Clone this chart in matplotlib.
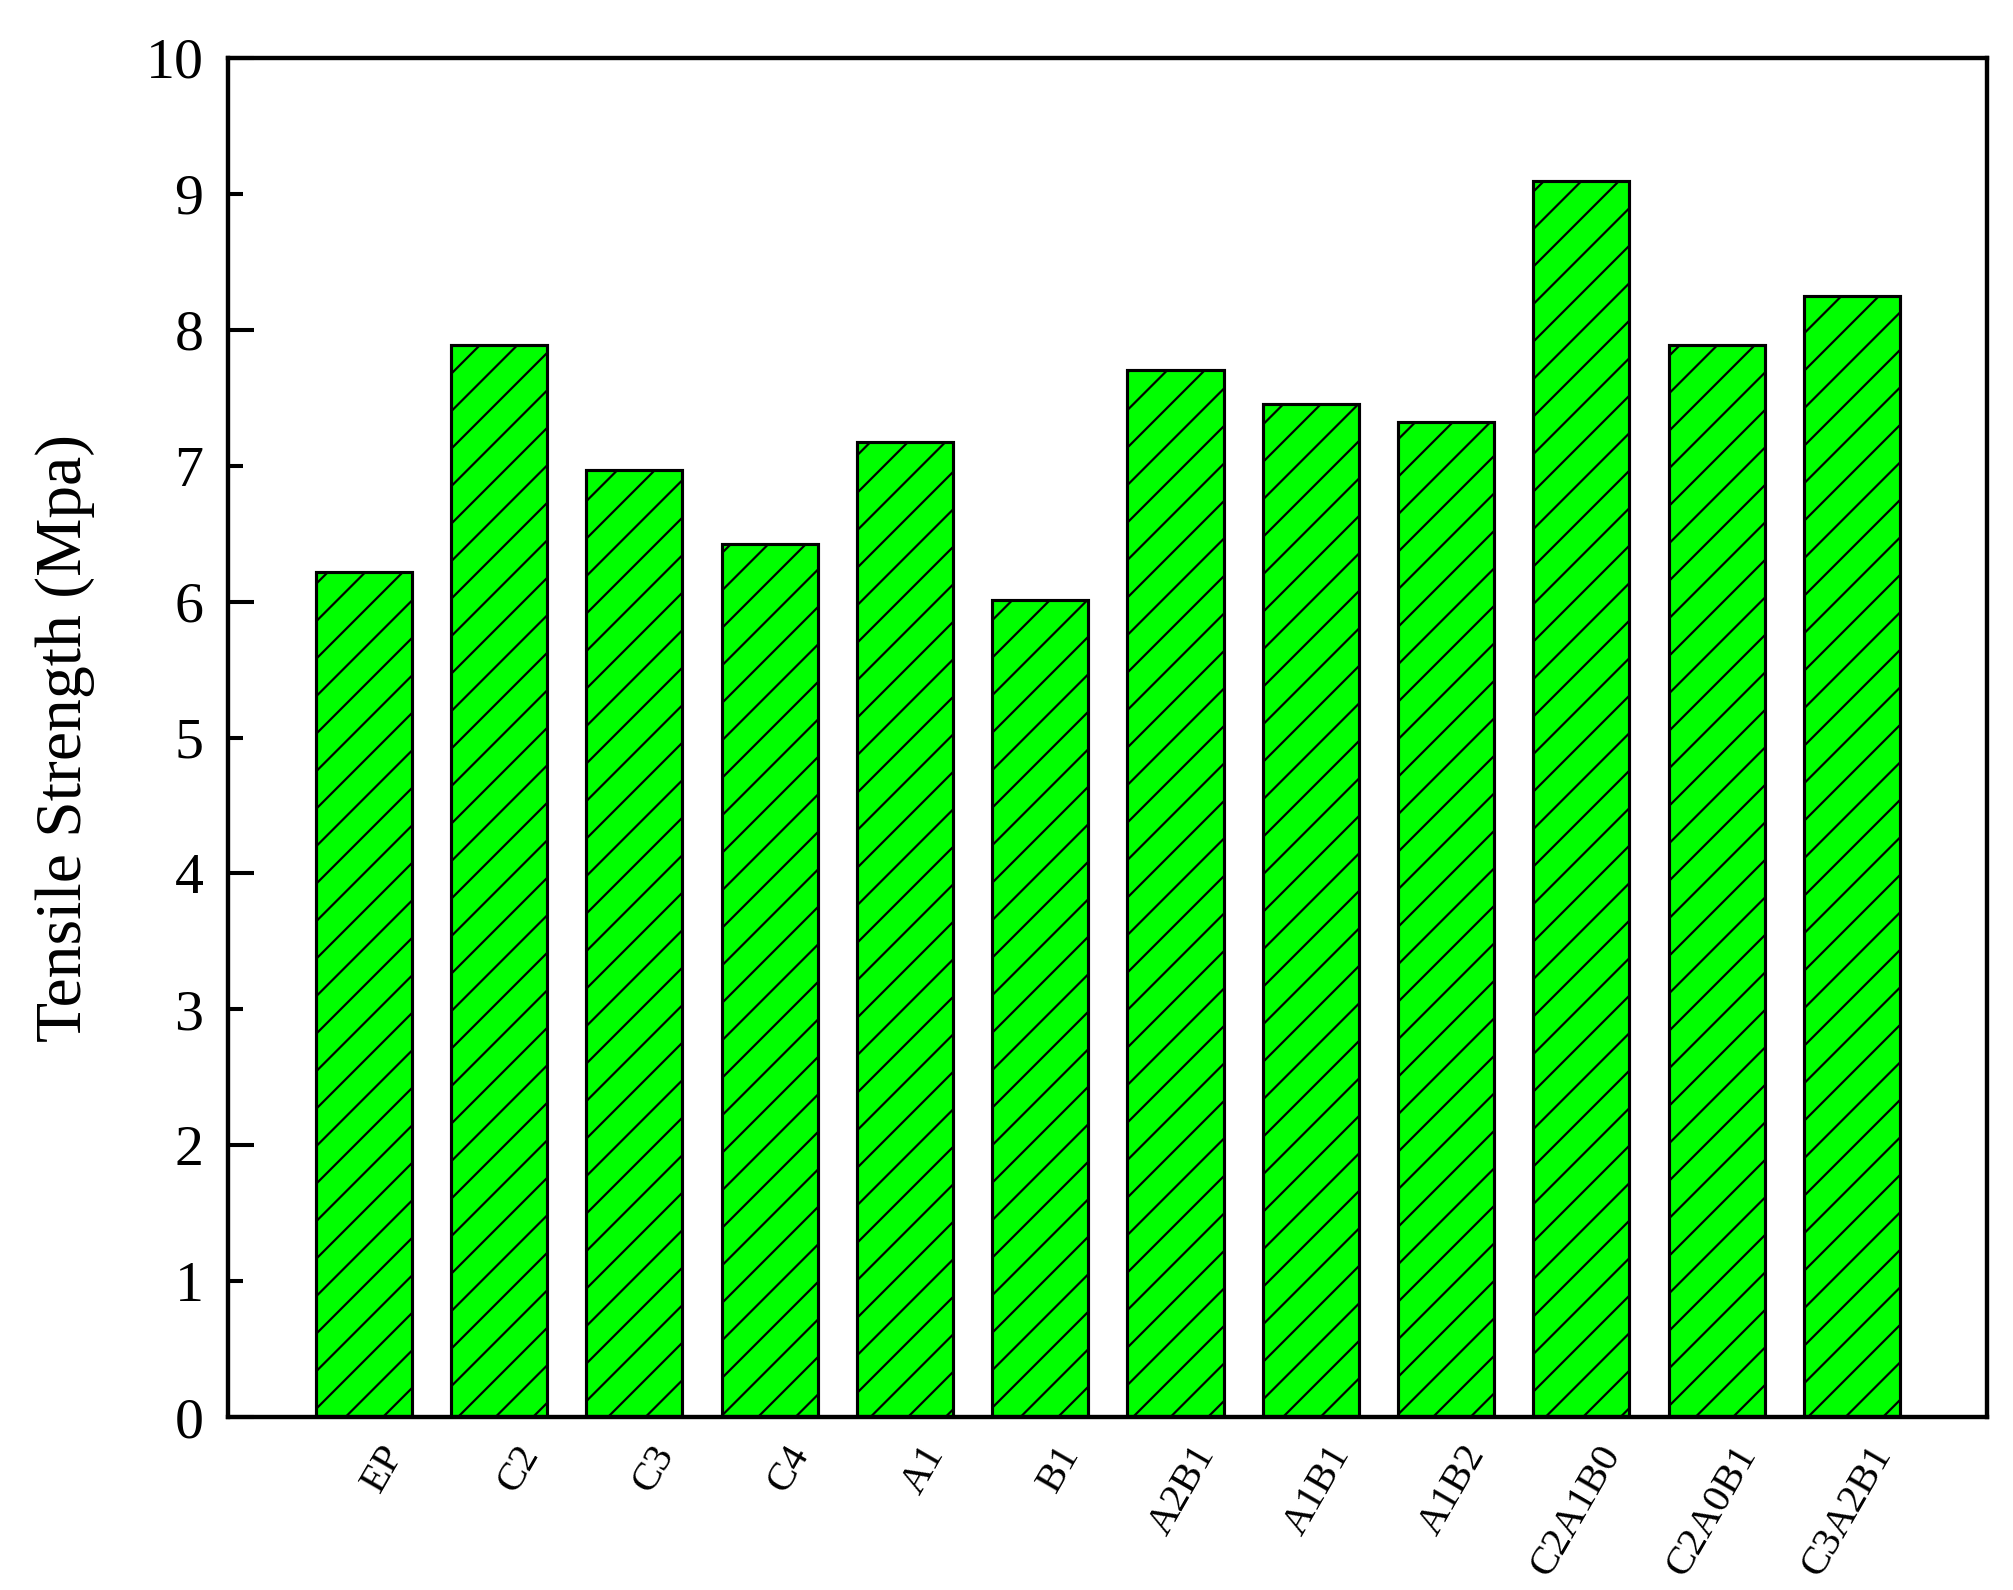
import numpy as np
import matplotlib
matplotlib.use("Agg")
import matplotlib.pyplot as plt
from matplotlib.ticker import MultipleLocator, FormatStrFormatter
import matplotlib.transforms as mtransforms

# sample names and tensile strength values (MPa)
samples = ['EP', 'C2', 'C3', 'C4', 'A1', 'B1', 'A2B1', 'A1B1', 'A1B2',
           'C2A1B0', 'C2A0B1', 'C3A2B1']
strength = [6.22, 7.89, 6.97, 6.42, 7.17, 6.01, 7.70, 7.45, 7.32, 9.09, 7.89, 8.25]

plt.rcParams['font.family'] = ['Liberation Serif', 'DejaVu Serif']
plt.rcParams['hatch.linewidth'] = 0.7

DPI = 225
fig = plt.figure(figsize=(2013 / DPI, 1590 / DPI), dpi=DPI)
ax = fig.add_axes([0.1135, 0.1086, 0.8737, 0.8551])

x = np.arange(len(samples))
ax.bar(x, strength, width=0.71, color='#00ff00', edgecolor='black',
       linewidth=1.0, hatch='//')

ax.set_xlim(-1, len(samples))
ax.set_ylim(0, 10)

# y ticks: long at even, short at odd, all labelled
ax.yaxis.set_major_locator(MultipleLocator(2))
ax.yaxis.set_minor_locator(MultipleLocator(1))
ax.yaxis.set_major_formatter(FormatStrFormatter('%d'))
ax.yaxis.set_minor_formatter(FormatStrFormatter('%d'))
ax.tick_params(axis='y', which='major', direction='in', length=8.3, width=1.3,
               labelsize=18.5, pad=8)
ax.tick_params(axis='y', which='minor', direction='in', length=4.8, width=1.3,
               labelsize=18.5, pad=8)

ax.set_xticks(x)
ax.set_xticklabels(samples, rotation=60, ha='right', va='center',
                   rotation_mode='anchor', fontsize=13)
ax.tick_params(axis='x', length=0, pad=10)
offset = mtransforms.ScaledTranslation(10 / 72, 0, fig.dpi_scale_trans)
for lbl in ax.get_xticklabels():
    lbl.set_transform(lbl.get_transform() + offset)

for sp in ax.spines.values():
    sp.set_linewidth(1.4)

ax.set_ylabel('Tensile Strength (Mpa)', fontsize=21, labelpad=16)

fig.savefig('out.png', dpi=DPI)
